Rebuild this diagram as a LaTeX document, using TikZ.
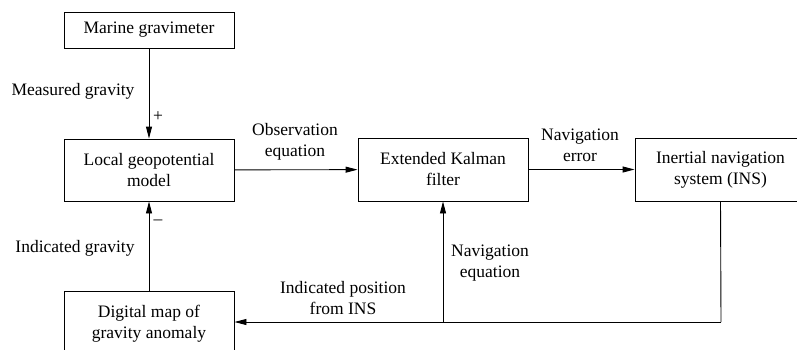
\documentclass[tikz,border=0pt]{standalone}
\usepackage{fontspec}
\setmainfont{Liberation Serif}
\usetikzlibrary{arrows.meta}
\begin{document}
\begin{tikzpicture}[x=1pt,y=-1pt,
  box/.style={draw,line width=0.9pt,minimum width=170pt,align=center,inner sep=0pt,font=\fontsize{17.5}{21}\selectfont},
  lbl/.style={align=center,inner sep=0pt,font=\fontsize{17.5}{21}\selectfont},
  arr/.style={line width=0.9pt,-{Triangle[length=12pt,width=6pt]}},
  ln/.style={line width=0.9pt}]
\useasboundingbox (0,0) rectangle (797,349);
\clip (0,0) rectangle (797,349);
\node[box,minimum height=36pt] (grav) at (149,30) {Marine gravimeter};
\node[box,minimum height=62pt] (local) at (149,170) {Local geopotential\\model};
\node[box,minimum height=63pt] (ekf) at (443,169.5) {Extended Kalman\\filter};
\node[box,minimum width=171pt,minimum height=63pt] (ins) at (720.5,169.5) {Inertial navigation\\system (INS)};
\node[box,minimum height=62pt,text depth=0pt] (map) at (149,322) {Digital map of\\gravity anomaly};
\coordinate (corner) at (721,322);
\coordinate (tap) at (443,322);
\draw[arr] (grav) -- (local);
\draw[arr] (map) -- (local);
\draw[arr] (local) -- (ekf);
\draw[arr] (ekf) -- (ins);
\draw[ln] (ins.south) -- (corner);
\draw[arr] (corner) -- (map.east);
\draw[arr] (tap) -- (ekf.south);
\node[lbl] (l1) at (73,91) {Measured gravity};
\node[lbl] (l2) at (158,117) {+};
\node[lbl] (l3) at (158,222) {--};
\node[lbl] (l4) at (75,248) {Indicated gravity};
\node[lbl] (l5) at (295,141.5) {Observation\\equation};
\node[lbl] (l6) at (580,145.5) {Navigation\\error};
\node[lbl] (l7) at (490,263.5) {Navigation\\equation};
\node[lbl] (l8) at (343,298.5) {Indicated position\\from INS};
\end{tikzpicture}
\end{document}
